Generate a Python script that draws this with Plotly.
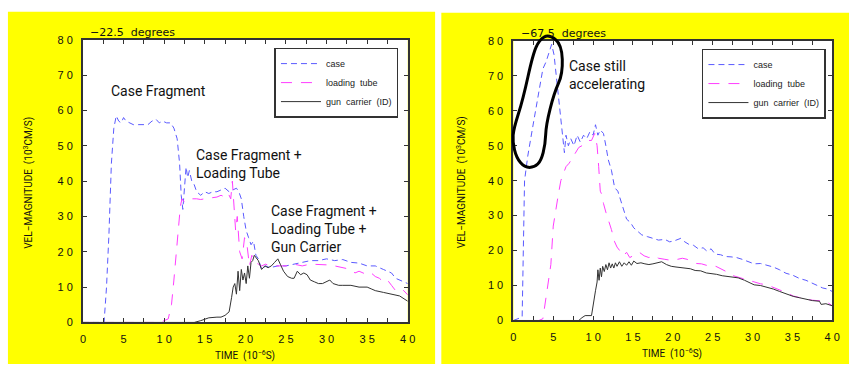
import plotly.graph_objects as go

# ---------------- data (time in 1e-6 s, velocity in 1e3 cm/s) ----------------
# Left panel: -22.5 degrees
L_case_t = [0, 2.6, 2.9, 3.2, 3.5, 3.8, 4.1, 4.4, 4.7, 5.0, 5.3, 5.7, 6.2, 6.8, 7.4, 8.0, 8.5, 9.0, 9.4, 9.8,
            10.3, 10.8, 11.2, 11.6, 11.9, 12.1, 12.3, 12.5, 12.7, 12.9, 13.1, 13.4, 13.7, 14.0, 14.5, 15.0,
            15.5, 16.0, 16.5, 17.0, 17.5, 18.0, 18.5, 18.9, 19.2, 19.5, 19.8, 20.1, 20.4, 20.7, 21.0, 21.3,
            21.6, 22.0, 22.5, 23.0, 24.0, 25.0, 26.0, 27.0, 28.0, 29.0, 30.0, 31.0, 32.0, 33.0, 34.0, 35.0,
            36.0, 37.0, 38.0, 38.5, 39.0, 40.0]
L_case_v = [0, 0, 10, 25, 45, 55, 58.5, 57, 56.5, 58, 57, 56.5, 56, 56, 56, 56, 57, 57.5, 56.5, 57,
            56.5, 56.5, 55, 52, 45, 36, 32, 38, 44, 41, 43, 40, 39, 37, 36, 37,
            36.5, 37, 37, 37.5, 38, 37, 37.5, 38, 37, 35, 30, 26, 24, 22, 23, 19,
            18, 15, 16, 15.5, 16, 16, 16.5, 17, 17.5, 17.5, 18, 17.5, 17.8, 17, 16.8, 16,
            16, 15, 14, 12.5, 12, 11]

L_tube_t = [0, 8.5, 9.5, 10.5, 10.9, 11.2, 11.5, 11.8, 12.0, 12.2, 12.5, 13.0, 13.5, 14.0, 14.5, 15.0,
            15.5, 16.0, 16.5, 17.0, 17.5, 17.9, 18.2, 18.4, 18.6, 18.8, 19.0, 19.3, 19.6, 19.9, 20.2,
            20.5, 20.8, 21.2, 21.6, 22.0, 22.5, 23.0, 24.0, 25.0, 26.0, 27.0, 28.0, 29.0, 30.0, 31.0,
            32.0, 33.0, 33.5, 34.0, 35.0, 35.5, 36.0, 36.5, 37.0, 37.5, 38.0, 38.5, 39.0, 39.5, 40.0]
L_tube_v = [0, 0, 0, 1, 5, 12, 20, 28, 33, 35, 34, 34.5, 35, 35, 34.8, 35,
            35.2, 35.5, 35.5, 36, 35.5, 36.5, 35, 40, 33, 26, 30, 20, 18, 24, 22,
            16, 19, 17, 16.5, 16, 16.5, 16, 16, 16, 16.5, 16, 16.5, 16.5, 16.3, 16,
            15.5, 15, 14, 14.5, 13.5, 14, 13, 12.5, 11.5, 12, 10.5, 9, 9.5, 9, 7.8]

L_gun_t = [0, 13.7, 14.5, 15.0, 15.5, 16.5, 17.0, 17.5, 18.0, 18.3, 18.5, 18.7, 18.9, 19.1, 19.3, 19.5,
           19.7, 19.9, 20.1, 20.3, 20.5, 20.7, 20.9, 21.1, 21.3, 21.6, 22.0, 22.4, 22.8, 23.2, 23.6, 24.0,
           24.3, 24.7, 25.2, 25.7, 26.0, 26.4, 26.8, 27.2, 27.6, 28.0, 28.5, 29.0, 29.5, 30.0, 30.4, 30.8,
           31.5, 32.0, 33.0, 34.0, 35.0, 35.5, 36.0, 37.0, 38.0, 39.0, 40.0]
L_gun_v = [0, 0, 0.5, 1, 1.3, 1.5, 1.5, 2, 3, 7, 10, 11, 8, 14.5, 9, 15,
           12, 14, 11, 16, 12.5, 17, 17.5, 19, 18.5, 17.5, 15, 16, 15.5, 16, 17, 18,
           16.5, 14.5, 13, 12.5, 12.5, 14.5, 13.5, 14, 13.5, 12, 11.5, 11, 11, 11.5, 12, 11,
           10.5, 10.5, 10.5, 10, 10, 9.5, 9, 8.5, 8, 7.5, 6]

# Right panel: -67.5 degrees
R_case_t = [0, 1.1, 1.4, 1.8, 2.4, 2.9, 3.3, 3.7, 4.1, 4.5, 4.8, 5.1, 5.5, 5.8, 6.1, 6.4, 6.6, 6.9, 7.2,
            7.6, 8.0, 8.4, 8.8, 9.2, 9.6, 10.0, 10.3, 10.6, 10.9, 11.3, 11.6, 11.9, 12.3, 12.7, 13.1, 13.5,
            13.8, 14.2, 14.7, 15.1, 15.6, 16.1, 16.8, 17.5, 18.2, 19.0, 19.6, 20.2, 21.0, 21.5, 22.0, 22.6,
            23.2, 23.8, 24.3, 24.8, 25.3, 26.0, 26.6, 27.3, 28.0, 28.7, 29.4, 30.2, 31.0, 31.8, 32.6, 33.4,
            34.2, 35.0, 35.9, 36.7, 37.5, 38.2, 38.8, 39.4, 40.0]
R_case_v = [0, 1, 40, 47, 55, 62, 67, 72, 74, 77, 79, 76, 67, 60, 55, 48, 53, 50, 52,
            50, 53, 51, 53, 52, 54, 53, 56, 53, 54.5, 53.5, 50, 46, 43, 38, 37, 34,
            31.5, 29, 28, 26.5, 25.5, 24.5, 24, 23.5, 23, 23.2, 22.5, 22.8, 23.5, 22.5, 21.8, 21.5,
            20.5, 20.8, 19.8, 20.5, 19, 18.8, 18.3, 18.2, 18, 17.5, 16.8, 16.2, 16.3, 15.8, 15.3, 14.5,
            13.5, 13, 12, 11.5, 10.6, 10, 9.3, 9, 8.3]

R_tube_t = [0, 3.2, 3.7, 4.1, 4.4, 4.7, 5.0, 5.3, 5.6, 5.95, 6.3, 6.6, 7.0, 7.4, 7.8, 8.2, 8.6, 9.0, 9.4,
            9.8, 10.2, 10.5, 10.7, 10.9, 11.1, 11.3, 11.6, 11.9, 12.3, 12.7, 13.0, 13.4, 13.8, 14.2, 14.6,
            15.0, 15.4, 15.8, 16.4, 17.0, 17.6, 18.2, 19.0, 19.8, 20.6, 21.2, 21.8, 22.4, 23.0, 23.6, 24.2,
            24.8, 25.4, 26.0, 26.7, 27.3, 28.0, 28.7, 29.4, 30.1, 31.0, 31.8, 32.6, 33.4, 34.2, 35.1, 35.9,
            36.7, 37.5, 38.4, 39.2, 40.0]
R_tube_v = [0, 0, 0.5, 6.9, 11, 16, 27, 32, 35.5, 40, 42, 44, 45, 46.5, 48, 49.5, 50, 51, 51.5,
            51.5, 53.5, 50, 44, 37, 36, 33.5, 31, 29, 26, 22.5, 21, 19.8, 18.5, 19.5, 18,
            18.5, 19, 19.5, 18.5, 18, 18.5, 17.8, 17.5, 17.2, 17.5, 17.8, 17.5, 16.6, 16.3, 16.2, 15.8,
            15.3, 15.5, 14.8, 14, 13, 12.5, 12, 11.5, 11.2, 10.5, 10.2, 9.5, 8.8, 8, 7, 6.5,
            6.1, 5.8, 5.7, 5.5, 4.2]

R_gun_t = [0, 8.2, 8.6, 9.0, 9.8, 10.1, 10.3, 10.5, 10.6, 10.75, 10.9, 11.05, 11.2, 11.4, 11.6, 11.8,
           12.0, 12.2, 12.4, 12.6, 12.8, 13.0, 13.3, 13.6, 13.9, 14.2, 14.5, 14.8, 15.1, 15.5, 16.0, 16.5,
           17.0, 17.5, 18.0, 18.6, 19.2, 19.8, 20.4, 21.0, 21.6, 22.2, 22.8, 23.5, 24.2, 24.8, 25.5, 26.2,
           26.8, 27.5, 28.2, 29.0, 29.6, 30.2, 31.0, 31.8, 32.6, 33.4, 34.2, 35.1, 35.9, 36.7, 37.5, 38.4,
           38.6, 39.2, 40.0]
R_gun_v = [0, 0, 0.8, 1.4, 1.4, 5, 8.5, 11, 14.5, 11.5, 15, 12.5, 15.5, 14, 16, 14.5,
           16.5, 15, 16.2, 15, 16.5, 15.5, 16.8, 15.5, 16.5, 15.8, 16.8, 15.8, 17, 16.3, 16.5, 16.2,
           16, 16.2, 16.5, 16.8, 16, 15.5, 15.3, 15.2, 15, 14.8, 14.3, 14.2, 13.6, 13.5, 13.2, 12.8,
           12.6, 12.5, 12.2, 11.5, 10.8, 10.2, 10, 9.6, 9, 8.3, 7.6, 6.9, 6.5, 6, 5.7, 5.5,
           4.6, 4.8, 4.2]

series_names = ["case", "loading  tube", "gun  carrier  (ID)"]
x_ticks = [0, 5, 10, 15, 20, 25, 30, 35, 40]
y_ticks = [0, 10, 20, 30, 40, 50, 60, 70, 80]

# ---------------- layout geometry ----------------
W, H = 860, 371
def px(x):
    return x / W
def py(y):
    return 1 - y / H

L_dom_x = [px(81), px(410)]
L_dom_y = [py(327), py(35)]
R_dom_x = [px(517), px(840)]
R_dom_y = [py(325), py(36)]

styles = [
    dict(color="#5a5aff", width=1, dash="6px,4px"),
    dict(color="#ff3cff", width=1, dash="11px,9px"),
    dict(color="#333333", width=1, dash="solid"),
]

fig = go.Figure()
left = [(L_case_t, L_case_v), (L_tube_t, L_tube_v), (L_gun_t, L_gun_v)]
right = [(R_case_t, R_case_v), (R_tube_t, R_tube_v), (R_gun_t, R_gun_v)]
for i, (t, v) in enumerate(left):
    fig.add_trace(go.Scatter(x=t, y=v, mode="lines", name=series_names[i], line=styles[i],
                             xaxis="x", yaxis="y", legend="legend"))
for i, (t, v) in enumerate(right):
    fig.add_trace(go.Scatter(x=t, y=v, mode="lines", name=series_names[i], line=styles[i],
                             xaxis="x2", yaxis="y2", legend="legend2"))

tick_font = dict(family="Liberation Sans, Arial, sans-serif", size=11, color="#111")
def spaced(n):
    return " ".join(str(n))

def xaxis(dom, anchor):
    return dict(domain=dom, anchor=anchor, range=[0, 40], tickvals=x_ticks,
                ticktext=[spaced(v) for v in x_ticks], ticks="inside", ticklen=4, tickwidth=1,
                tickcolor="#333", showline=True, linecolor="#333", linewidth=2, mirror="ticks",
                showgrid=False, zeroline=False, tickfont=tick_font, ticklabelstandoff=5,
                minor=dict(dtick=2.5, ticks="inside", ticklen=4, tickcolor="#333", showgrid=False))

def yaxis(dom, anchor):
    return dict(domain=dom, anchor=anchor, range=[0, 80], tickvals=y_ticks,
                ticktext=[spaced(v) for v in y_ticks], ticks="inside", ticklen=4, tickwidth=1,
                tickcolor="#333", showline=True, linecolor="#333", linewidth=2, mirror="ticks",
                showgrid=False, zeroline=False, tickfont=tick_font, ticklabelstandoff=6)

legend_common = dict(bgcolor="white", bordercolor="#333", borderwidth=1.5,
                     font=dict(family="Liberation Sans, Arial, sans-serif", size=9, color="#222"),
                     xanchor="left", yanchor="top", tracegroupgap=0, itemwidth=40)

shapes = [
    dict(type="rect", xref="paper", yref="paper", x0=px(5), x1=px(437.7), y0=py(370), y1=py(6),
         fillcolor="#ffff00", line=dict(width=0), layer="below"),
    dict(type="rect", xref="paper", yref="paper", x0=px(444), x1=px(857), y0=py(370), y1=py(7),
         fillcolor="#ffff00", line=dict(width=0), layer="below"),
    # white plotting areas on top of the yellow panels
    dict(type="rect", xref="paper", yref="paper", x0=L_dom_x[0], x1=L_dom_x[1], y0=L_dom_y[0], y1=L_dom_y[1],
         fillcolor="white", line=dict(width=0), layer="below"),
    dict(type="rect", xref="paper", yref="paper", x0=R_dom_x[0], x1=R_dom_x[1], y0=R_dom_y[0], y1=R_dom_y[1],
         fillcolor="white", line=dict(width=0), layer="below"),
]

# hand-drawn loop around the early case acceleration (right panel), in data units
loop_t = [4.46, 6.07, 6.2, 5.1, 4.1, 4.0, 3.47, 2.64, 1.4, 0.37, -0.1, 0.04, 1.2, 2.44, 3.26, 4.46]
loop_v = [81.9, 78.9, 70.6, 65.0, 55.9, 50.4, 45.7, 43.8, 43.8, 46.6, 51.2, 54.9, 63.2, 76.1, 80.3, 81.9]
def to_paper_x2(t):
    return R_dom_x[0] + (R_dom_x[1] - R_dom_x[0]) * t / 40
def to_paper_y2(v):
    return R_dom_y[0] + (R_dom_y[1] - R_dom_y[0]) * v / 80
pts = [(to_paper_x2(a), to_paper_y2(b)) for a, b in zip(loop_t, loop_v)][:-1]
n = len(pts)
mids = [((pts[i][0] + pts[(i + 1) % n][0]) / 2, (pts[i][1] + pts[(i + 1) % n][1]) / 2) for i in range(n)]
path = f"M {mids[-1][0]},{mids[-1][1]}"
for i in range(n):
    path += f" Q {pts[i][0]},{pts[i][1]} {mids[i][0]},{mids[i][1]}"
path += " Z"
shapes.append(dict(type="path", xref="paper", yref="paper", path=path,
                   line=dict(color="black", width=3), fillcolor="rgba(0,0,0,0)", layer="above"))

ann_font = dict(family="Liberation Sans Narrow, Roboto, Arial, sans-serif", size=14, color="#111")
small_font = dict(family="DejaVu Sans, sans-serif", size=11, color="#111")
title_font = dict(family="Liberation Sans Narrow, Roboto, Arial, sans-serif", size=10, color="#111")

def ann(x, y, text, font, xanchor="left", angle=0):
    return dict(x=px(x), y=py(y), xref="paper", yref="paper", text=text, showarrow=False,
                xanchor=xanchor, yanchor="middle", font=font, align="left", textangle=angle)

annotations = [
    ann(86, 27, "−22.5  degrees", small_font),
    ann(523, 28, "−67.5  degrees", small_font),
    ann(107, 88, "Case Fragment", ann_font),
    ann(193, 163.5, "Case Fragment +<br>Loading Tube", ann_font),
    ann(269, 230, "Case Fragment +<br>Loading Tube +<br>Gun Carrier", ann_font),
    ann(571, 71, "Case still<br>accelerating", ann_font),
    ann(25, 183, "VEL−MAGNITUDE  (10<sup>3</sup>CM/S)", title_font, xanchor="center", angle=-90),
    ann(464, 182, "VEL−MAGNITUDE  (10<sup>3</sup>CM/S)", title_font, xanchor="center", angle=-90),
    ann(245, 361, "TIME  (10<sup>−6</sup>S)", title_font, xanchor="center"),
    ann(678, 359, "TIME  (10<sup>−6</sup>S)", title_font, xanchor="center"),
]

fig.update_layout(
    width=W, height=H, margin=dict(l=0, r=0, t=0, b=0),
    paper_bgcolor="white", plot_bgcolor="rgba(0,0,0,0)",
    xaxis=xaxis(L_dom_x, "y"), yaxis=yaxis(L_dom_y, "x"),
    xaxis2=xaxis(R_dom_x, "y2"), yaxis2=yaxis(R_dom_y, "x2"),
    legend=dict(x=px(275), y=py(43), **legend_common),
    legend2=dict(x=px(708), y=py(44), **legend_common),
    shapes=shapes, annotations=annotations, showlegend=True,
)

fig.write_html("out.html", config={"displayModeBar": False},
               post_script="document.body.style.margin='0';document.body.style.overflow='hidden';")
